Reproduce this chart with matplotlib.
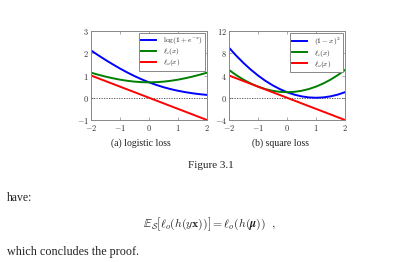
import matplotlib
matplotlib.use('Agg')
from matplotlib import pyplot as plt

plt.rcParams['mathtext.fontset'] = 'cm'
plt.rcParams['font.family'] = ['Liberation Serif', 'DejaVu Serif']
plt.rcParams['text.color'] = '#222222'

# sample points along the x axis
x_vals = [-2, -1.75, -1.5, -1.25, -1, -0.75, -0.5, -0.25, 0,
          0.25, 0.5, 0.75, 1, 1.25, 1.5, 1.75, 2]

# (a) logistic loss
logistic = [2.127, 1.910, 1.701, 1.502, 1.313, 1.137, 0.974, 0.826, 0.693,
            0.576, 0.474, 0.387, 0.313, 0.252, 0.201, 0.160, 0.127]
logistic_even = [1.127, 1.035, 0.951, 0.877, 0.813, 0.762, 0.724, 0.701, 0.693,
                 0.701, 0.724, 0.762, 0.813, 0.877, 0.951, 1.035, 1.127]
logistic_odd = [1.0, 0.875, 0.75, 0.625, 0.5, 0.375, 0.25, 0.125, 0.0,
                -0.125, -0.25, -0.375, -0.5, -0.625, -0.75, -0.875, -1.0]

# (b) square loss
square = [9.0, 7.5625, 6.25, 5.0625, 4.0, 3.0625, 2.25, 1.5625, 1.0,
          0.5625, 0.25, 0.0625, 0.0, 0.0625, 0.25, 0.5625, 1.0]
square_even = [5.0, 4.0625, 3.25, 2.5625, 2.0, 1.5625, 1.25, 1.0625, 1.0,
               1.0625, 1.25, 1.5625, 2.0, 2.5625, 3.25, 4.0625, 5.0]
square_odd = [4.0, 3.5, 3.0, 2.5, 2.0, 1.5, 1.0, 0.5, 0.0,
              -0.5, -1.0, -1.5, -2.0, -2.5, -3.0, -3.5, -4.0]

x_ticks = [-2, -1, 0, 1, 2]
left_yticks = [-1, 0, 1, 2, 3]
right_yticks = [-4, 0, 4, 8, 12]

fig = plt.figure(figsize=(3.95, 2.62), dpi=100)
W, H = 395.0, 262.0

def make_axes(left_px, labels, curves, yticks):
    ax = fig.add_axes([left_px / W, 1 - 120 / H, 116 / W, 89 / H])
    ax.axhline(0, color='#444444', lw=0.6, ls=(0, (1.5, 1.5)))
    for ys, c, lab in zip(curves, ['#0000ff', '#008000', '#ff0000'], labels):
        ax.plot(x_vals, ys, color=c, lw=1.4, label=lab)
    ax.set_xlim(-2, 2)
    ax.set_ylim(yticks[0], yticks[-1])
    ax.set_xticks(x_ticks)
    ax.set_yticks(yticks)
    ax.set_xticklabels(['$%d$' % t for t in x_ticks])
    ax.set_yticklabels(['$%d$' % t for t in yticks])
    ax.tick_params(direction='in', length=2, width=0.5, color='#888888',
                   labelsize=6, pad=1.5, top=True, right=True,
                   labelcolor='#333333')
    ax.tick_params(axis='x', pad=2.5)
    for s in ax.spines.values():
        s.set_color('#888888')
        s.set_linewidth(0.7)
    leg = ax.legend(loc='upper right', fontsize=5.3, fancybox=False,
                    handlelength=2.1, handletextpad=0.9, borderaxespad=0.3,
                    labelspacing=0.0, borderpad=0.3, framealpha=1)
    leg.get_frame().set_edgecolor('#888888')
    leg.get_frame().set_linewidth(0.7)
    return ax

make_axes(91, [r'$\log(1+e^{-x})$', r'$\ell_e(x)$', r'$\ell_o(x)$'],
          [logistic, logistic_even, logistic_odd], left_yticks)
make_axes(229, [r'$(1-x)^2$', r'$\ell_e(x)$', r'$\ell_o(x)$'],
          [square, square_even, square_odd], right_yticks)

fig.text(141 / W, 1 - 143 / H, '(a) logistic loss', ha='center', va='center', fontsize=7)
fig.text(280 / W, 1 - 143 / H, '(b) square loss', ha='center', va='center', fontsize=7)
fig.text(211 / W, 1 - 165 / H, 'Figure 3.1', ha='center', va='center', fontsize=8)
fig.text(7 / W, 1 - 198 / H, 'have:', ha='left', va='center', fontsize=8.5)
fig.text(210 / W, 1 - 224 / H,
         r'$\mathbb{E}_\mathcal{S}\left[\ell_o(h(y\mathbf{x}))\right] = \ell_o(h(\boldsymbol{\mu}))\ \ ,$',
         ha='center', va='center', fontsize=8.5)
fig.text(7 / W, 1 - 252 / H, 'which concludes the proof.', ha='left', va='center', fontsize=8.7)

fig.savefig('out.png', dpi=100)
